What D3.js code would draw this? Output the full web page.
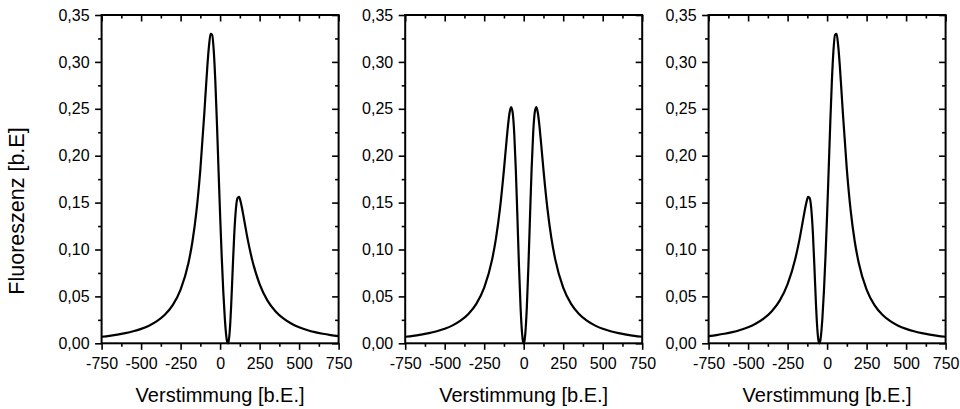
<!DOCTYPE html>
<html><head><meta charset="utf-8">
<script src="https://cdn.jsdelivr.net/npm/d3@7/dist/d3.min.js"></script>
<style>body{margin:0;background:#fff}svg{display:block}</style>
</head><body><svg id="c" width="960" height="409"></svg>
<script>
// ---- data ----
const xMajorTicks = [-750, -500, -250, 0, 250, 500, 750];
const xMinorTicks = [-625, -375, -125, 125, 375, 625];
const xTickLabels = ["-750", "-500", "-250", "0", "250", "500", "750"];
const yMajorTicks = [0, 0.05, 0.10, 0.15, 0.20, 0.25, 0.30, 0.35];
const yMinorTicks = [0.025, 0.075, 0.125, 0.175, 0.225, 0.275, 0.325];
const yTickLabels = ["0,00", "0,05", "0,10", "0,15", "0,20", "0,25", "0,30", "0,35"];
const xTitle = "Verstimmung [b.E.]";
const yTitle = "Fluoreszenz [b.E]";

const detuningLeft = [-750,-700,-650,-600,-550,-500,-450,-400,-350,-300,-250,-200,-175,-150,-125,-100,-90,-80,-70,-60,-50,-40,-30,-20,-10,0,10,20,30,35,40,45,49,55,60,65,70,80,90,100,110,120,130,140,150,175,200,250,300,350,400,450,500,550,600,650,700,750];
const fluorLeft = [0.0070,0.0080,0.0092,0.0108,0.0128,0.0154,0.0188,0.0236,0.0304,0.0407,0.0572,0.0859,0.1085,0.1403,0.1853,0.2450,0.2715,0.2970,0.3175,0.3298,0.3288,0.3115,0.2785,0.2345,0.1853,0.1370,0.0932,0.0557,0.0261,0.0148,0.0064,0.0013,0,0.0032,0.0110,0.0235,0.0401,0.0801,0.1177,0.1432,0.1548,0.1560,0.1510,0.1430,0.1337,0.1105,0.0910,0.0631,0.0455,0.0342,0.0265,0.0211,0.0171,0.0142,0.0119,0.0102,0.0088,0.0076];

const detuningMid = [-750,-700,-650,-600,-550,-500,-450,-400,-350,-300,-250,-200,-175,-150,-125,-110,-100,-90,-80,-70,-60,-50,-40,-30,-20,-10,-5,0,5,10,20,30,40,50,60,70,80,90,100,110,125,150,175,200,250,300,350,400,450,500,550,600,650,700,750];
const fluorMid = [0.0070,0.0080,0.0093,0.0108,0.0129,0.0155,0.0191,0.0241,0.0313,0.0421,0.0594,0.0892,0.1124,0.1438,0.1852,0.2133,0.2311,0.2453,0.2519,0.2462,0.2242,0.1855,0.1354,0.0832,0.0390,0.0100,0.0025,0,0.0025,0.0100,0.0390,0.0832,0.1354,0.1855,0.2242,0.2462,0.2519,0.2453,0.2311,0.2133,0.1852,0.1438,0.1124,0.0892,0.0594,0.0421,0.0313,0.0241,0.0191,0.0155,0.0129,0.0108,0.0093,0.0080,0.0070];

const detuningRight = [-750,-700,-650,-600,-550,-500,-450,-400,-350,-300,-250,-200,-175,-150,-140,-130,-120,-110,-100,-90,-80,-70,-65,-60,-55,-49,-45,-40,-35,-30,-20,-10,0,10,20,30,40,50,60,70,80,90,100,125,150,175,200,250,300,350,400,450,500,550,600,650,700,750];
const fluorRight = [0.0076,0.0088,0.0102,0.0119,0.0142,0.0171,0.0211,0.0265,0.0342,0.0455,0.0631,0.0910,0.1105,0.1337,0.1430,0.1510,0.1560,0.1548,0.1432,0.1177,0.0801,0.0401,0.0235,0.0110,0.0032,0,0.0013,0.0064,0.0148,0.0261,0.0557,0.0932,0.1370,0.1853,0.2345,0.2785,0.3115,0.3288,0.3298,0.3175,0.2970,0.2715,0.2450,0.1853,0.1403,0.1085,0.0859,0.0572,0.0407,0.0304,0.0236,0.0188,0.0154,0.0128,0.0108,0.0092,0.0080,0.0070];

// ---- layout ----
const svg = d3.select("#c");
const FONT = "'Liberation Sans', Arial, sans-serif";
const plotTop = 15, plotBottom = 343.3;
const panels = [
  {x0: 101.6, x1: 338.6, xs: detuningLeft, ys: fluorLeft},
  {x0: 405.2, x1: 642.2, xs: detuningMid, ys: fluorMid},
  {x0: 708.6, x1: 945.6, xs: detuningRight, ys: fluorRight}
];
const MAJ = 6.5, MIN = 3.5;

panels.forEach(p => {
  const x = d3.scaleLinear().domain([-750, 750]).range([p.x0, p.x1]);
  const y = d3.scaleLinear().domain([0, 0.35]).range([plotBottom, plotTop]);
  const g = svg.append("g");

  const style = sel => {
    sel.select(".domain").remove();
    sel.selectAll(".tick line").attr("stroke", "#000").attr("stroke-width", 1.6);
    sel.selectAll("text").attr("fill", "#000").style("font-family", FONT).style("font-size", "16px");
  };
  g.append("g").attr("transform", `translate(0,${plotBottom})`)
    .call(d3.axisBottom(x).tickValues(xMajorTicks).tickSize(MAJ).tickPadding(8).tickFormat((d, i) => xTickLabels[i])).call(style);
  g.append("g").attr("transform", `translate(0,${plotBottom})`)
    .call(d3.axisBottom(x).tickValues(xMinorTicks).tickSize(MIN).tickFormat("")).call(style);
  g.append("g").attr("transform", `translate(0,${plotTop})`)
    .call(d3.axisTop(x).tickValues(xMajorTicks).tickSize(-MAJ).tickFormat("")).call(style);
  g.append("g").attr("transform", `translate(0,${plotTop})`)
    .call(d3.axisTop(x).tickValues(xMinorTicks).tickSize(-MIN).tickFormat("")).call(style);
  g.append("g").attr("transform", `translate(${p.x0},0)`)
    .call(d3.axisLeft(y).tickValues(yMajorTicks).tickSize(MAJ).tickPadding(5.5).tickFormat((d, i) => yTickLabels[i])).call(style);
  g.append("g").attr("transform", `translate(${p.x0},0)`)
    .call(d3.axisLeft(y).tickValues(yMinorTicks).tickSize(MIN).tickFormat("")).call(style);
  g.append("g").attr("transform", `translate(${p.x1},0)`)
    .call(d3.axisRight(y).tickValues(yMajorTicks).tickSize(-MAJ).tickFormat("")).call(style);
  g.append("g").attr("transform", `translate(${p.x1},0)`)
    .call(d3.axisRight(y).tickValues(yMinorTicks).tickSize(-MIN).tickFormat("")).call(style);

  const pts = p.xs.map((v, i) => [v, p.ys[i]]);
  g.append("path").datum(pts)
    .attr("fill", "none").attr("stroke", "#000").attr("stroke-width", 2.2)
    .attr("stroke-linejoin", "round")
    .attr("d", d3.line().x(d => x(d[0])).y(d => y(d[1])).curve(d3.curveMonotoneX));

  g.append("rect").attr("x", p.x0).attr("y", plotTop).attr("width", p.x1 - p.x0).attr("height", plotBottom - plotTop)
    .attr("fill", "none").attr("stroke", "#000").attr("stroke-width", 2);

  g.append("text").attr("x", (p.x0 + p.x1) / 2).attr("y", 402)
    .attr("text-anchor", "middle").style("font-family", FONT).style("font-size", "20px")
    .text(xTitle);
});

svg.append("text").attr("transform", "translate(24,211) rotate(-90)")
  .attr("text-anchor", "middle").style("font-family", FONT).style("font-size", "21.5px")
  .text(yTitle);
</script></body></html>
